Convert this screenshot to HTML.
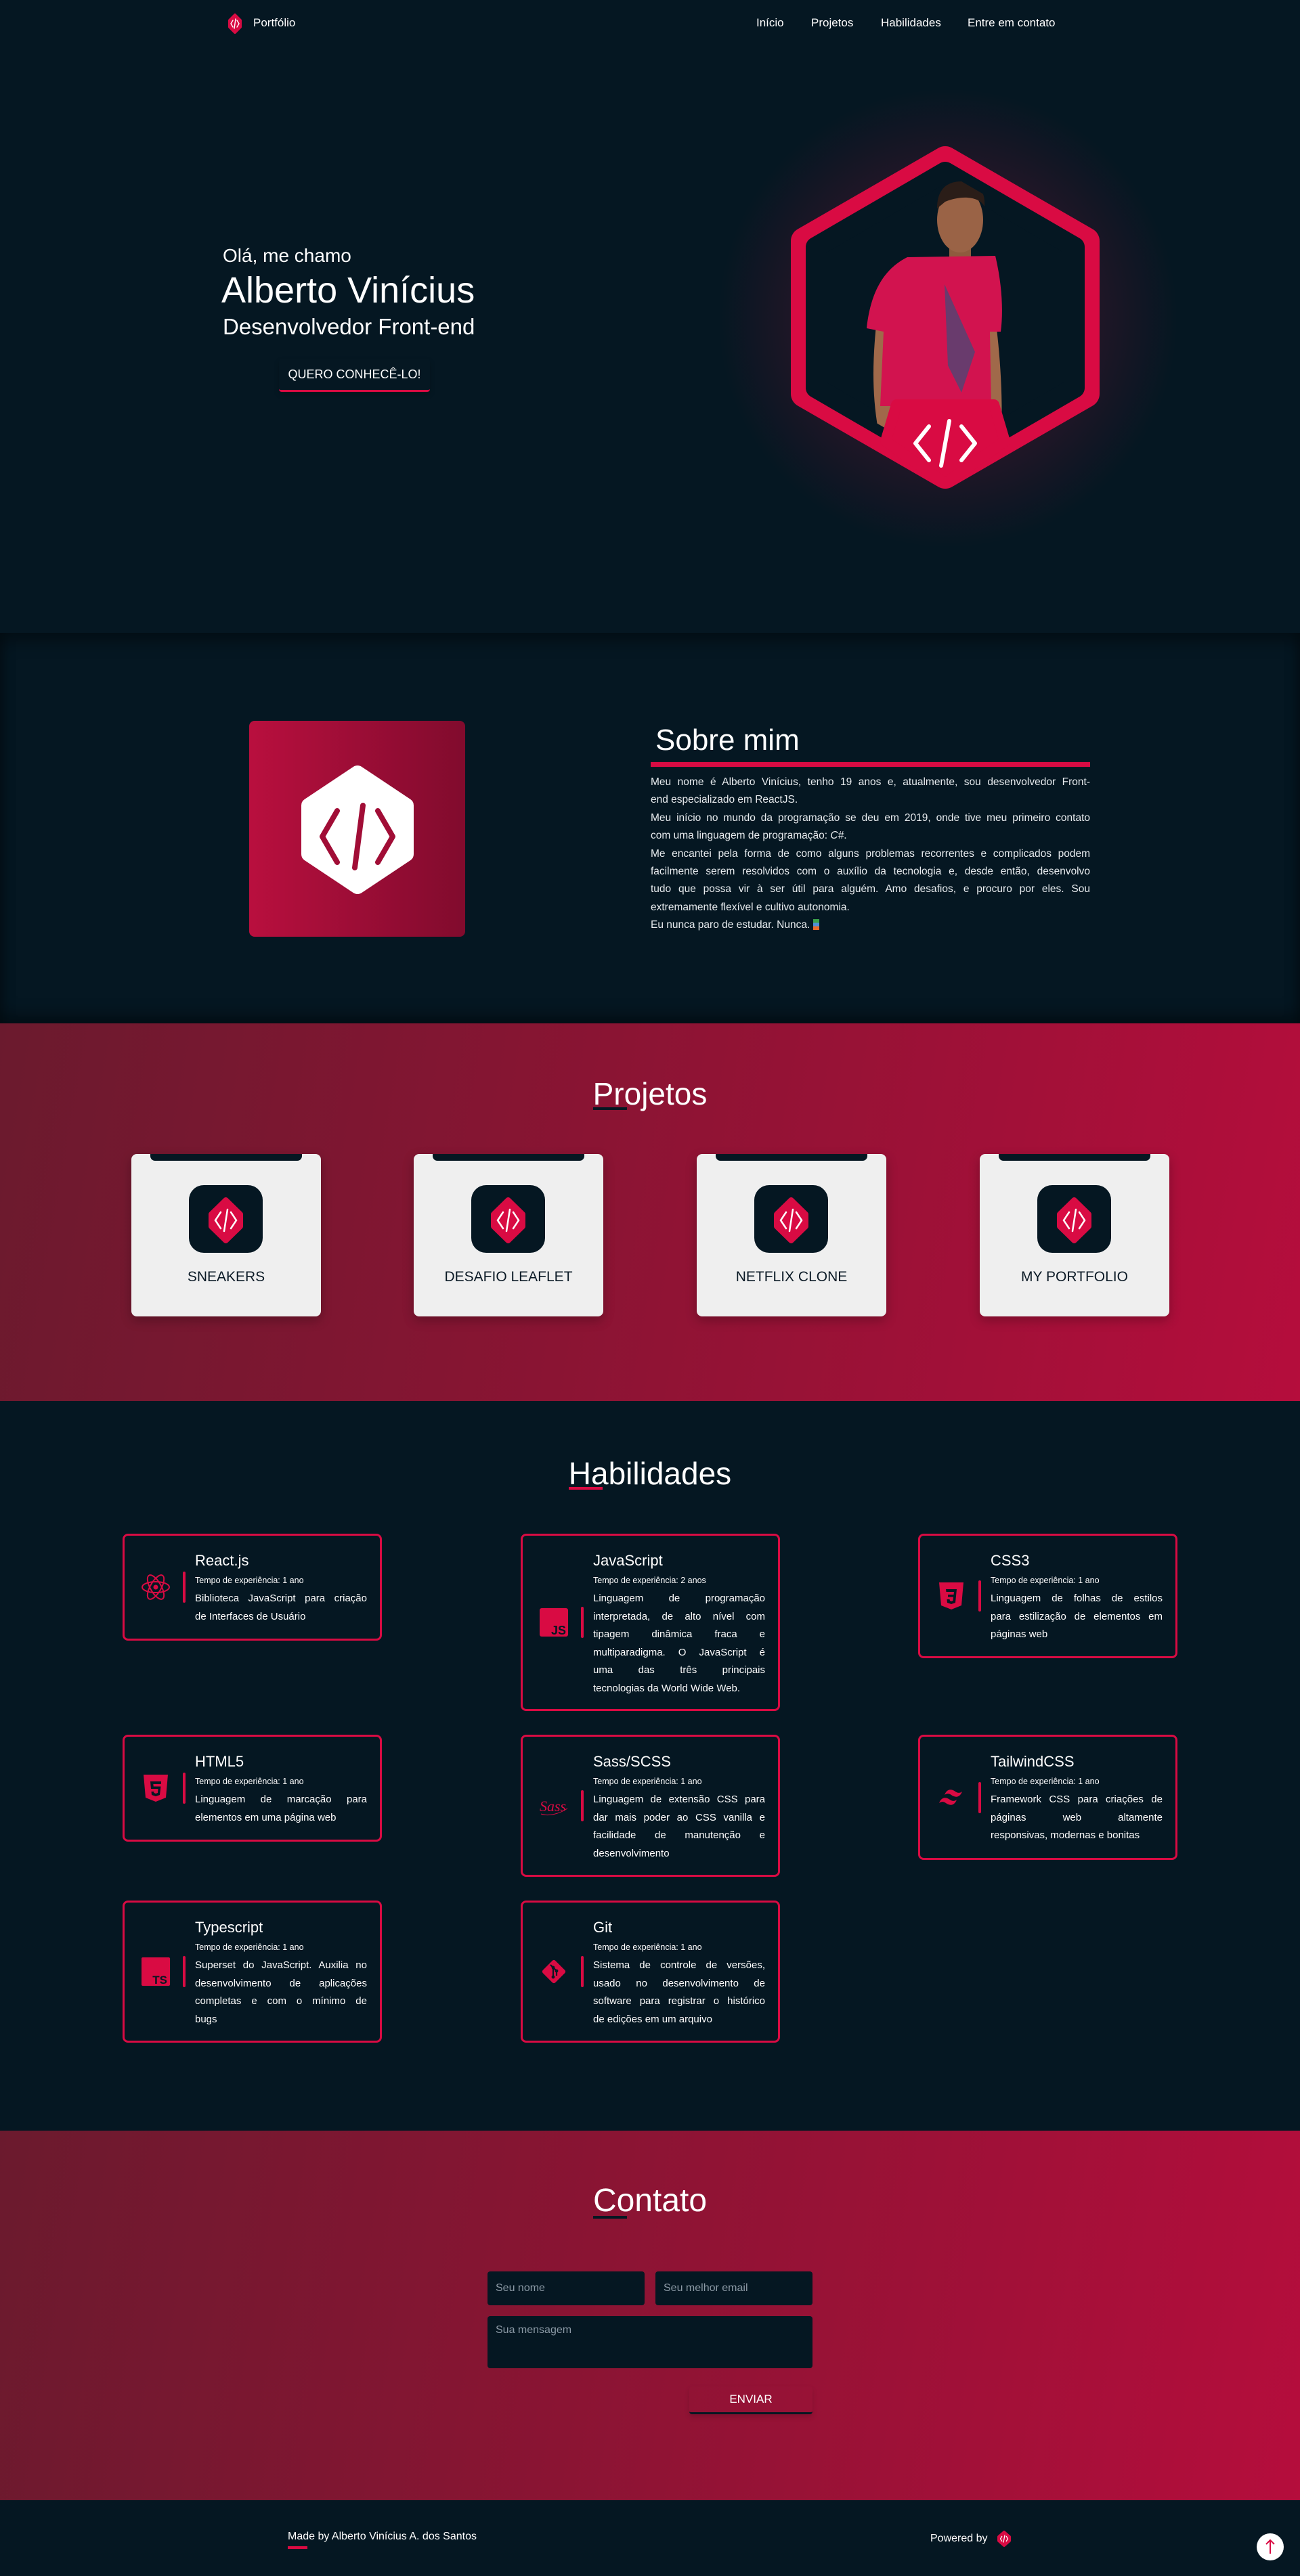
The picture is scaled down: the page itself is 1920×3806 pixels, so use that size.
<!DOCTYPE html>
<html><head><meta charset="utf-8">
<style>
*{margin:0;padding:0;box-sizing:border-box}
html,body{width:1920px;height:3806px;overflow:hidden}
body{position:relative;background:#051722;font-family:"Liberation Sans",sans-serif;color:#fff}
.a{position:absolute}
.nav a{position:absolute;top:24px;font-size:17px;color:#fff;text-decoration:none;white-space:nowrap}
.sec-title{position:absolute;left:0;width:1920px;text-align:center;font-size:46px;color:#fff;line-height:56px}
.sec-title span{position:relative;display:inline-block}
.sec-title span i{position:absolute;left:0;bottom:4px;width:50px;height:4px}
.line{display:block;text-align:justify;text-align-last:justify;white-space:nowrap}
.last{text-align-last:left}
.card{position:absolute;width:280px;height:240px;background:#efefef;border-radius:8px;box-shadow:0 6px 16px rgba(0,0,0,.25)}
.card .tab{position:absolute;left:28px;right:28px;top:0;height:10px;background:#051722;border-radius:0 0 7px 7px}
.card .ib{position:absolute;left:85px;top:46px;width:109px;height:100px;background:#051722;border-radius:22px}
.card .t{position:absolute;left:0;width:100%;top:170px;text-align:center;font-size:21px;color:#0b1a26}
.sk{position:absolute;width:383px;border:3px solid #d90b43;border-radius:8px;background:#051722}
.sk .ic{position:absolute;left:24px;width:44px;height:44px;top:50%;margin-top:-22px}
.sk .bar{position:absolute;left:86px;width:4px;height:46px;top:50%;margin-top:-23px;background:#d90b43;border-radius:2px}
.sk h3{position:absolute;left:104px;top:22px;font-size:22px;font-weight:normal;line-height:30px}
.sk .e{position:absolute;left:104px;top:57px;font-size:12.5px;line-height:18px}
.sk .d{position:absolute;left:104px;top:80px;width:254px;font-size:15px;line-height:26.5px}
.grad{background:linear-gradient(100deg,#6b1a2e 0%,#8a1433 45%,#b50d3c 100%)}
.inp{position:absolute;background:#051722;border-radius:4px;color:#8c9aa6;font-size:16px;padding-left:12px}
</style></head><body>

<!-- HERO -->
<div class="a" style="left:0;top:0;width:1920px;height:935px;background:#051722"></div>
<div class="a" style="left:1000px;top:70px;width:800px;height:800px;background:radial-gradient(circle at 50% 50%,rgba(217,11,67,0.35) 0%,rgba(217,11,67,0.18) 30%,rgba(5,23,34,0) 60%)"></div>

<svg class="a" style="left:336px;top:19px" width="22" height="32" viewBox="0 0 22 32"><polygon points="11,3 19,11 19,21 11,29 3,21 3,11" fill="#d90b43" stroke="#d90b43" stroke-width="4" stroke-linejoin="round"/><path d="M8 11 L5 16 L8 21 M14 11 L17 16 L14 21 M12 9 L10 23" stroke="#fff" stroke-width="1.4" fill="none" stroke-linecap="round"/></svg>
<div class="a" style="left:374px;top:24px;font-size:17px">Portfólio</div>
<div class="nav">
<a style="left:1117px">Início</a>
<a style="left:1198px">Projetos</a>
<a style="left:1301px">Habilidades</a>
<a style="left:1429px">Entre em contato</a>
</div>

<div class="a" style="left:329px;top:362px;font-size:28px">Olá, me chamo</div>
<div class="a" style="left:327px;top:398px;font-size:54px;white-space:nowrap">Alberto Vinícius</div>
<div class="a" style="left:329px;top:464px;font-size:33px;white-space:nowrap">Desenvolvedor Front-end</div>
<div class="a" style="left:412px;top:530px;width:223px;height:49px;text-align:center;font-size:18px;line-height:46px;border-bottom:3px solid #d90b43;border-radius:4px;box-shadow:0 4px 8px rgba(0,0,0,.2)">QUERO CONHECÊ-LO!</div>

<svg class="a" style="left:0;top:0" width="1920" height="935">
<defs><clipPath id="hc"><polygon points="1396,254 1587,365 1587,573 1396,684 1205,573 1205,365" stroke-linejoin="round"/></clipPath></defs>
<polygon points="1396,236 1604,356 1604,582 1396,702 1188,582 1188,356" fill="#d90b43" stroke="#d90b43" stroke-width="40" stroke-linejoin="round"/>
<polygon points="1396,254 1587,365 1587,573 1396,684 1205,573 1205,365" fill="#051722" stroke="#051722" stroke-width="30" stroke-linejoin="round"/>
<g clip-path="url(#hc)">
<path d="M1295,470 C1290,520 1285,580 1300,650 L1320,650 C1318,590 1318,530 1320,480 Z" fill="#a0694a"/>
<path d="M1455,470 C1462,540 1466,600 1462,660 L1478,660 C1482,600 1478,530 1470,470 Z" fill="#a0694a"/>
<rect x="1402" y="360" width="32" height="30" fill="#8f5b3e"/>
<ellipse cx="1418" cy="325" rx="34" ry="48" fill="#9a6346"/>
<path d="M1384,308 C1384,278 1400,268 1420,268 C1442,268 1456,280 1454,305 C1446,290 1420,288 1396,298 Z" fill="#2a1d18"/>
<path d="M1340,380 L1470,378 C1480,420 1482,460 1478,490 L1462,490 L1464,600 L1300,600 L1305,490 L1280,485 C1285,440 1300,400 1340,380 Z" fill="#d2134f"/>
<path d="M1395,420 L1440,520 L1420,580 L1400,540 Z" fill="#3c4d7a" opacity=".7"/>
</g>
<polygon points="1324,598 1468,598 1484,652 1396,714 1308,652" fill="#d90b43" stroke="#d90b43" stroke-width="16" stroke-linejoin="round"/>
<path d="M1372,630 L1352,655 L1372,680 M1420,630 L1440,655 L1420,680 M1402,622 L1390,688" stroke="#fff" stroke-width="6" fill="none" stroke-linecap="round" stroke-linejoin="round"/>
</svg>

<!-- ABOUT -->
<div class="a" style="left:0;top:935px;width:1920px;height:577px;background:#051722;box-shadow:inset 0 14px 22px rgba(0,0,0,.35),inset 0 -14px 22px rgba(0,0,0,.35)"></div>
<div class="a" style="left:368px;top:1065px;width:319px;height:319px;border-radius:8px;background:linear-gradient(90deg,#b90f3e 0%,#9c0d36 50%,#810b2d 100%)"></div>
<svg class="a" style="left:440px;top:1128px" width="176" height="196" viewBox="0 0 176 196">
<polygon points="88,14 160,62 160,134 88,182 16,134 16,62" fill="#fff" stroke="#fff" stroke-width="22" stroke-linejoin="round"/>
<path d="M58,70 L36,108 L58,146 M118,70 L140,108 L118,146 M96,62 L84,154" stroke="#a10d36" stroke-width="8" fill="none" stroke-linecap="round" stroke-linejoin="round"/>
</svg>
<div class="a" style="left:968px;top:1066px;font-size:44px;line-height:56px">Sobre mim</div>
<div class="a" style="left:961px;top:1126px;width:649px;height:7px;background:#d90b43"></div>
<div class="a" style="left:961px;top:1143px;width:649px;font-size:15.5px;line-height:26.4px;color:#e8ecef">
<span class="line">Meu nome é Alberto Vinícius, tenho 19 anos e, atualmente, sou desenvolvedor Front-</span>
<span class="line last">end especializado em ReactJS.</span>
<span class="line">Meu início no mundo da programação se deu em 2019, onde tive meu primeiro contato</span>
<span class="line last">com uma linguagem de programação: <i>C#</i>.</span>
<span class="line">Me encantei pela forma de como alguns problemas recorrentes e complicados podem</span>
<span class="line">facilmente serem resolvidos com o auxílio da tecnologia e, desde então, desenvolvo</span>
<span class="line">tudo que possa vir à ser útil para alguém. Amo desafios, e procuro por eles. Sou</span>
<span class="line last">extremamente flexível e cultivo autonomia.</span>
<span class="line last">Eu nunca paro de estudar. Nunca. <span style="display:inline-block;width:9px;height:16px;vertical-align:-3px;background:linear-gradient(#3aa04a 0 33%,#4f8fd8 33% 66%,#e8692a 66%)"></span></span>
</div>

<!-- PROJECTS -->
<div class="a grad" style="left:0;top:1512px;width:1920px;height:558px"></div>
<div class="sec-title" style="top:1588px"><span>Projetos<i style="background:#051722"></i></span></div>

<div class="card" style="left:194px;top:1705px"><div class="tab"></div><div class="ib"><svg width="109" height="100"><polygon points="54.5,22 76,43 76,61 54.5,82 33,61 33,43" fill="#d90b43" stroke="#d90b43" stroke-width="8" stroke-linejoin="round"/><path d="M47,40 L39,52 L47,64 M62,40 L70,52 L62,64 M57,36 L52,68" stroke="#fff" stroke-width="2.5" fill="none" stroke-linecap="round"/></svg></div><div class="t">SNEAKERS</div></div>
<div class="card" style="left:611px;top:1705px"><div class="tab"></div><div class="ib"><svg width="109" height="100"><polygon points="54.5,22 76,43 76,61 54.5,82 33,61 33,43" fill="#d90b43" stroke="#d90b43" stroke-width="8" stroke-linejoin="round"/><path d="M47,40 L39,52 L47,64 M62,40 L70,52 L62,64 M57,36 L52,68" stroke="#fff" stroke-width="2.5" fill="none" stroke-linecap="round"/></svg></div><div class="t">DESAFIO LEAFLET</div></div>
<div class="card" style="left:1029px;top:1705px"><div class="tab"></div><div class="ib"><svg width="109" height="100"><polygon points="54.5,22 76,43 76,61 54.5,82 33,61 33,43" fill="#d90b43" stroke="#d90b43" stroke-width="8" stroke-linejoin="round"/><path d="M47,40 L39,52 L47,64 M62,40 L70,52 L62,64 M57,36 L52,68" stroke="#fff" stroke-width="2.5" fill="none" stroke-linecap="round"/></svg></div><div class="t">NETFLIX CLONE</div></div>
<div class="card" style="left:1447px;top:1705px"><div class="tab"></div><div class="ib"><svg width="109" height="100"><polygon points="54.5,22 76,43 76,61 54.5,82 33,61 33,43" fill="#d90b43" stroke="#d90b43" stroke-width="8" stroke-linejoin="round"/><path d="M47,40 L39,52 L47,64 M62,40 L70,52 L62,64 M57,36 L52,68" stroke="#fff" stroke-width="2.5" fill="none" stroke-linecap="round"/></svg></div><div class="t">MY PORTFOLIO</div></div>

<!-- SKILLS -->
<div class="sec-title" style="top:2149px"><span>Habilidades<i style="background:#d90b43"></i></span></div>

<div class="sk" style="left:181px;top:2266px;height:158px">
<svg class="ic" viewBox="0 0 44 44"><g fill="none" stroke="#d90b43" stroke-width="2"><ellipse cx="22" cy="22" rx="20" ry="8"/><ellipse cx="22" cy="22" rx="20" ry="8" transform="rotate(60 22 22)"/><ellipse cx="22" cy="22" rx="20" ry="8" transform="rotate(120 22 22)"/></g><circle cx="22" cy="22" r="3.5" fill="#d90b43"/></svg>
<div class="bar"></div><h3>React.js</h3><div class="e">Tempo de experiência: 1 ano</div>
<div class="d"><span class="line">Biblioteca JavaScript para criação</span><span class="line last">de Interfaces de Usuário</span></div></div>

<div class="sk" style="left:769px;top:2266px;height:262px">
<svg class="ic" viewBox="0 0 44 44"><rect x="1" y="1" width="42" height="42" rx="3" fill="#d90b43"/><text x="40" y="40" text-anchor="end" font-family="Liberation Sans" font-weight="bold" font-size="18" fill="#051722">JS</text></svg>
<div class="bar"></div><h3>JavaScript</h3><div class="e">Tempo de experiência: 2 anos</div>
<div class="d"><span class="line">Linguagem de programação</span><span class="line">interpretada, de alto nível com</span><span class="line">tipagem dinâmica fraca e</span><span class="line">multiparadigma. O JavaScript é</span><span class="line">uma das três principais</span><span class="line last">tecnologias da World Wide Web.</span></div></div>

<div class="sk" style="left:1356px;top:2266px;height:184px">
<svg class="ic" viewBox="0 0 44 44"><path d="M4,2 H40 L37,36 L22,42 L7,36 Z" fill="#d90b43"/><path d="M14,12 H30 L28,32 L22,34 L16,32 L15.5,27 H19.5 L20,29 L22,30 L24.5,29 L25,23.5 H17 V20 H25.5 L26,16 H14.5 Z" fill="#051722"/></svg>
<div class="bar"></div><h3>CSS3</h3><div class="e">Tempo de experiência: 1 ano</div>
<div class="d"><span class="line">Linguagem de folhas de estilos</span><span class="line">para estilização de elementos em</span><span class="line last">páginas web</span></div></div>

<div class="sk" style="left:181px;top:2563px;height:158px">
<svg class="ic" viewBox="0 0 44 44"><path d="M4,2 H40 L37,36 L22,42 L7,36 Z" fill="#d90b43"/><path d="M30,12 H14 L15,23 H25.5 L25,29 L22,30 L19.5,29 L19.2,27 H15.5 L16,32 L22,34 L28,32 L29.5,19.5 H18.7 L18.4,16 H29.8 Z" fill="#051722"/></svg>
<div class="bar"></div><h3>HTML5</h3><div class="e">Tempo de experiência: 1 ano</div>
<div class="d"><span class="line">Linguagem de marcação para</span><span class="line last">elementos em uma página web</span></div></div>

<div class="sk" style="left:769px;top:2563px;height:210px">
<svg class="ic" viewBox="0 0 44 44"><text x="1" y="30" font-family="Liberation Serif" font-style="italic" font-size="22" fill="#d90b43">Sass</text><path d="M3,34 C14,38 30,34 42,26" stroke="#d90b43" stroke-width="1" fill="none"/></svg>
<div class="bar"></div><h3>Sass/SCSS</h3><div class="e">Tempo de experiência: 1 ano</div>
<div class="d"><span class="line">Linguagem de extensão CSS para</span><span class="line">dar mais poder ao CSS vanilla e</span><span class="line">facilidade de manutenção e</span><span class="line last">desenvolvimento</span></div></div>

<div class="sk" style="left:1356px;top:2563px;height:185px">
<svg class="ic" viewBox="0 0 44 44"><path d="M12,18 C15,10 21,8 28,13 C31,15 34,16 38,13 C35,21 29,23 22,18 C19,16 16,15 12,18 Z M4,30 C7,22 13,20 20,25 C23,27 26,28 30,25 C27,33 21,35 14,30 C11,28 8,27 4,30 Z" fill="#d90b43"/></svg>
<div class="bar"></div><h3>TailwindCSS</h3><div class="e">Tempo de experiência: 1 ano</div>
<div class="d"><span class="line">Framework CSS para criações de</span><span class="line">páginas web altamente</span><span class="line last">responsivas, modernas e bonitas</span></div></div>

<div class="sk" style="left:181px;top:2808px;height:210px">
<svg class="ic" viewBox="0 0 44 44"><rect x="1" y="1" width="42" height="42" rx="2" fill="#d90b43"/><text x="39" y="40" text-anchor="end" font-family="Liberation Sans" font-weight="bold" font-size="17" fill="#051722">TS</text></svg>
<div class="bar"></div><h3>Typescript</h3><div class="e">Tempo de experiência: 1 ano</div>
<div class="d"><span class="line">Superset do JavaScript. Auxilia no</span><span class="line">desenvolvimento de aplicações</span><span class="line">completas e com o mínimo de</span><span class="line last">bugs</span></div></div>

<div class="sk" style="left:769px;top:2808px;height:210px">
<svg class="ic" viewBox="0 0 44 44"><rect x="9" y="9" width="26" height="26" rx="3" fill="#d90b43" transform="rotate(45 22 22)"/><path d="M17,12 L26,21 M21,16 V30 M26,21 V28" stroke="#051722" stroke-width="2.2" fill="none"/><circle cx="21" cy="16" r="2.4" fill="#051722"/><circle cx="21" cy="30" r="2.4" fill="#051722"/><circle cx="26" cy="21" r="2.4" fill="#051722"/></svg>
<div class="bar"></div><h3>Git</h3><div class="e">Tempo de experiência: 1 ano</div>
<div class="d"><span class="line">Sistema de controle de versões,</span><span class="line">usado no desenvolvimento de</span><span class="line">software para registrar o histórico</span><span class="line last">de edições em um arquivo</span></div></div>

<!-- CONTACT -->
<div class="a grad" style="left:0;top:3148px;width:1920px;height:546px"></div>
<div class="sec-title" style="top:3224px;font-size:48px"><span>Contato<i style="background:#051722;bottom:2px"></i></span></div>
<div class="inp" style="left:720px;top:3356px;width:232px;height:50px;line-height:50px">Seu nome</div>
<div class="inp" style="left:968px;top:3356px;width:232px;height:50px;line-height:50px">Seu melhor email</div>
<div class="inp" style="left:720px;top:3422px;width:480px;height:77px;padding-top:12px">Sua mensagem</div>
<div class="a" style="left:1018px;top:3526px;width:182px;height:41px;text-align:center;font-size:17px;line-height:38px;border-bottom:3px solid #051722;border-radius:4px;box-shadow:0 4px 8px rgba(0,0,0,.15)">ENVIAR</div>

<!-- FOOTER -->
<div class="a" style="left:0;top:3694px;width:1920px;height:112px;background:#051722"></div>
<div class="a" style="left:425px;top:3739px;font-size:16px;white-space:nowrap">Made by Alberto Vinícius A. dos Santos</div>
<div class="a" style="left:425px;top:3762px;width:29px;height:4px;background:#d90b43"></div>
<div class="a" style="left:1374px;top:3742px;font-size:16px;white-space:nowrap">Powered by</div>
<svg class="a" style="left:1471px;top:3738px" width="24" height="26" viewBox="0 0 24 26"><polygon points="12,3 20,10 20,16 12,23 4,16 4,10" fill="#d90b43" stroke="#d90b43" stroke-width="4" stroke-linejoin="round"/><path d="M9,9 L6.5,13 L9,17 M15,9 L17.5,13 L15,17 M13,7.5 L11,18.5" stroke="#fff" stroke-width="1.2" fill="none"/></svg>
<svg class="a" style="left:1856px;top:3743px" width="40" height="40"><circle cx="20" cy="20" r="20" fill="#fff"/><path d="M20,30 V10 M14,16 L20,10 L26,16" stroke="#d90b43" stroke-width="2" fill="none"/></svg>
</body></html>
